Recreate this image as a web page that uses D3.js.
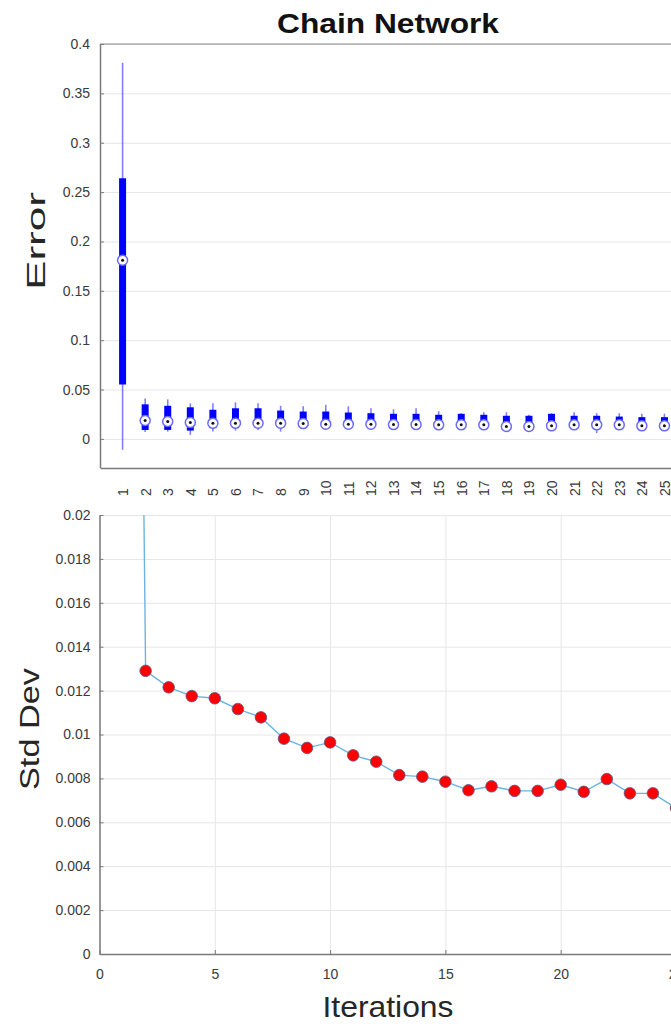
<!DOCTYPE html>
<html>
<head>
<meta charset="utf-8">
<script src="https://cdn.jsdelivr.net/npm/d3@7"></script>
<style>
  body { margin: 0; background: #fff; }
  svg { display: block; font-family: 'Liberation Sans', Arial, Helvetica, sans-serif; }
  .tick text { fill: #3a3a3a; font-size: 14px; }
  .axis path, .axis line { stroke: #7a7a7a; }
  .grid line { stroke: #e6e6e6; }
  .grid path { display: none; }
</style>
</head>
<body>
<div id="chart"></div>
<script>
// iterations 1..25, error distribution per iteration (compact boxplot)
const iterations = d3.range(1, 26);
const whiskerHigh = [0.381, 0.041, 0.040, 0.036, 0.036, 0.037, 0.036, 0.0335, 0.033, 0.0345, 0.033, 0.031, 0.030,
  0.031, 0.028, 0.026, 0.027, 0.027, 0.0245, 0.026, 0.027, 0.026, 0.026, 0.0255, 0.0255];
const q3 = [0.264, 0.035, 0.0335, 0.032, 0.0295, 0.031, 0.031, 0.0287, 0.0277, 0.0277, 0.0267, 0.026, 0.0254,
  0.0254, 0.0244, 0.0254, 0.0244, 0.0234, 0.0234, 0.0254, 0.0234, 0.0234, 0.0226, 0.022, 0.022];
const medians = [0.181, 0.0186, 0.0176, 0.0165, 0.0159, 0.0159, 0.0159, 0.0159, 0.0155, 0.0149, 0.0149, 0.0149, 0.0145,
  0.0145, 0.0142, 0.0142, 0.0142, 0.0125, 0.0125, 0.0132, 0.0142, 0.0142, 0.0142, 0.0132, 0.0132];
const q1 = [0.055, 0.009, 0.0091, 0.0084, 0.0109, 0.0109, 0.0119, 0.0119, 0.0119, 0.0122, 0.0122, 0.0122, 0.0122,
  0.0122, 0.0122, 0.0122, 0.0122, 0.0112, 0.0115, 0.0118, 0.0122, 0.0118, 0.0118, 0.0115, 0.0115];
const whiskerLow = [-0.011, 0.007, 0.0074, 0.0041, 0.0074, 0.0084, 0.0091, 0.0074, 0.0109, 0.0112, 0.0115, 0.0112, 0.0112,
  0.0091, 0.0112, 0.0122, 0.0112, 0.0074, 0.0112, 0.0112, 0.0112, 0.0058, 0.0112, 0.0091, 0.0091];

// std dev of the error per iteration
const stdDev = [0.11, 0.0129, 0.01215, 0.01175, 0.01165, 0.01116, 0.01078, 0.00981, 0.00939, 0.00964, 0.00905, 0.00876,
  0.00815, 0.00808, 0.00785, 0.00746, 0.00764, 0.00743, 0.00743, 0.00771, 0.00739, 0.00797, 0.00732, 0.00732, 0.00665];

const errorTicks = d3.range(0, 0.4001, 0.05);
const stdTicks = d3.range(0, 0.02001, 0.002);
const iterTicks = [0, 5, 10, 15, 20, 25];

const width = 671, height = 1024;

const svg = d3.select('#chart').append('svg')
  .attr('width', width)
  .attr('height', height);

// text helper, stretched to the width
function label(x, y, rot, size, len, txt, bold) {
  return svg.append('text')
    .attr('transform', 'translate(' + x + ',' + y + ') rotate(' + rot + ')')
    .attr('text-anchor', 'middle')
    .attr('font-size', size)
    .attr('font-weight', bold ? 'bold' : 'normal')
    .attr('fill', bold ? '#111' : '#262626')
    .attr('textLength', len)
    .attr('lengthAdjust', 'spacingAndGlyphs')
    .text(txt);
}

// ---------- top panel: boxplots ----------
const boxArea = { left: 100, right: 687, top: 44, bottom: 468 };
const xTop = d3.scaleLinear().domain([0, 26]).range([boxArea.left, boxArea.right]);
const yTop = d3.scaleLinear().domain([-0.0295, 0.4]).range([boxArea.bottom, boxArea.top]);

const gTop = svg.append('g');

gTop.append('g')
  .attr('class', 'grid')
  .attr('transform', 'translate(' + boxArea.left + ',0)')
  .call(d3.axisLeft(yTop).tickValues(errorTicks).tickSize(-(boxArea.right - boxArea.left)).tickFormat(''));

// top border
gTop.append('line')
  .attr('x1', boxArea.left).attr('x2', boxArea.right)
  .attr('y1', boxArea.top).attr('y2', boxArea.top)
  .attr('stroke', '#8a8a8a');

const yAxisTop = gTop.append('g')
  .attr('class', 'axis')
  .attr('transform', 'translate(' + boxArea.left + ',0)')
  .call(d3.axisLeft(yTop).tickValues(errorTicks).tickSizeInner(-4).tickSizeOuter(0).tickPadding(10)
    .tickFormat(d => d3.format('~g')(+d.toFixed(2))));
yAxisTop.select('.domain').attr('d', 'M0.5,' + boxArea.top + 'V' + boxArea.bottom).attr('stroke-width', 1.5);

const xAxisTop = gTop.append('g')
  .attr('class', 'axis')
  .attr('transform', 'translate(0,' + boxArea.bottom + ')')
  .call(d3.axisBottom(xTop).tickValues(iterations).tickSize(0).tickFormat(d3.format('d')));
xAxisTop.select('.domain').attr('stroke-width', 1.5);
xAxisTop.selectAll('text')
  .attr('font-size', 14)
  .attr('transform', 'rotate(-90)')
  .attr('text-anchor', 'start')
  .attr('x', -28)
  .attr('y', 0)
  .attr('dy', '0.35em');

const boxes = gTop.append('g').selectAll('g')
  .data(iterations.map((it, i) => ({ it: it, hi: whiskerHigh[i], q3: q3[i], med: medians[i], q1: q1[i], lo: whiskerLow[i] })))
  .join('g');

boxes.append('line')
  .attr('x1', d => xTop(d.it)).attr('x2', d => xTop(d.it))
  .attr('y1', d => yTop(d.hi)).attr('y2', d => yTop(d.lo))
  .attr('stroke', '#0000ff')
  .attr('stroke-opacity', 0.5)
  .attr('stroke-width', 1.6);

boxes.append('line')
  .attr('x1', d => xTop(d.it)).attr('x2', d => xTop(d.it))
  .attr('y1', d => yTop(d.q3)).attr('y2', d => yTop(d.q1))
  .attr('stroke', '#0000ff')
  .attr('stroke-width', 7);

boxes.append('circle')
  .attr('cx', d => xTop(d.it)).attr('cy', d => yTop(d.med))
  .attr('r', 5)
  .attr('fill', '#fff')
  .attr('stroke', '#6a6aff')
  .attr('stroke-width', 1.5);

boxes.append('circle')
  .attr('cx', d => xTop(d.it)).attr('cy', d => yTop(d.med))
  .attr('r', 1.5)
  .attr('fill', '#111');

label(388, 33, 0, 27, 222, 'Chain Network', true);
label(45, 241, -90, 26, 98, 'Error');

// ---------- bottom panel: std dev line ----------
const lineArea = { left: 99.5, right: 676, top: 515, bottom: 954 };
const xBot = d3.scaleLinear().domain([0, 25]).range([lineArea.left, lineArea.right]);
const yBot = d3.scaleLinear().domain([0, 0.02]).range([lineArea.bottom, lineArea.top]);

const gBot = svg.append('g');

gBot.append('g')
  .attr('class', 'grid')
  .attr('transform', 'translate(' + lineArea.left + ',0)')
  .call(d3.axisLeft(yBot).tickValues(stdTicks).tickSize(-(lineArea.right - lineArea.left)).tickFormat(''));
gBot.append('g')
  .attr('class', 'grid')
  .attr('transform', 'translate(0,' + lineArea.bottom + ')')
  .call(d3.axisBottom(xBot).tickValues(iterTicks).tickSize(-(lineArea.bottom - lineArea.top)).tickFormat(''));

svg.append('clipPath').attr('id', 'clipBot')
  .append('rect')
  .attr('x', lineArea.left).attr('y', lineArea.top)
  .attr('width', lineArea.right - lineArea.left).attr('height', lineArea.bottom - lineArea.top);

const line = d3.line()
  .x((d, i) => xBot(iterations[i]))
  .y(d => yBot(d));

const plot = gBot.append('g').attr('clip-path', 'url(#clipBot)');

plot.append('path')
  .datum(stdDev)
  .attr('fill', 'none')
  .attr('stroke', '#6cb3e3')
  .attr('stroke-width', 1.4)
  .attr('d', line);

plot.selectAll('circle')
  .data(stdDev.slice(1))
  .join('circle')
  .attr('cx', (d, i) => xBot(iterations[i + 1]))
  .attr('cy', d => yBot(d))
  .attr('r', 5.8)
  .attr('fill', '#ff0000')
  .attr('stroke', '#5a5a8a')
  .attr('stroke-width', 0.8);

const yAxisBot = gBot.append('g')
  .attr('class', 'axis')
  .attr('transform', 'translate(' + lineArea.left + ',0)')
  .call(d3.axisLeft(yBot).tickValues(stdTicks).tickSizeInner(-4).tickSizeOuter(0).tickPadding(9)
    .tickFormat(d => d3.format('~g')(+d.toFixed(3))));
yAxisBot.select('.domain').attr('stroke-width', 1.5);
yAxisBot.selectAll('text').attr('font-size', 15);

const xAxisBot = gBot.append('g')
  .attr('class', 'axis')
  .attr('transform', 'translate(0,' + lineArea.bottom + ')')
  .call(d3.axisBottom(xBot).tickValues(iterTicks).tickSizeInner(-4).tickSizeOuter(0).tickPadding(15));
xAxisBot.select('.domain').attr('stroke-width', 1.5);
xAxisBot.selectAll('text').attr('font-size', 16);

label(39, 729, -90, 27, 122, 'Std Dev');
label(388, 1017, 0, 29, 131, 'Iterations');
</script>
</body>
</html>
